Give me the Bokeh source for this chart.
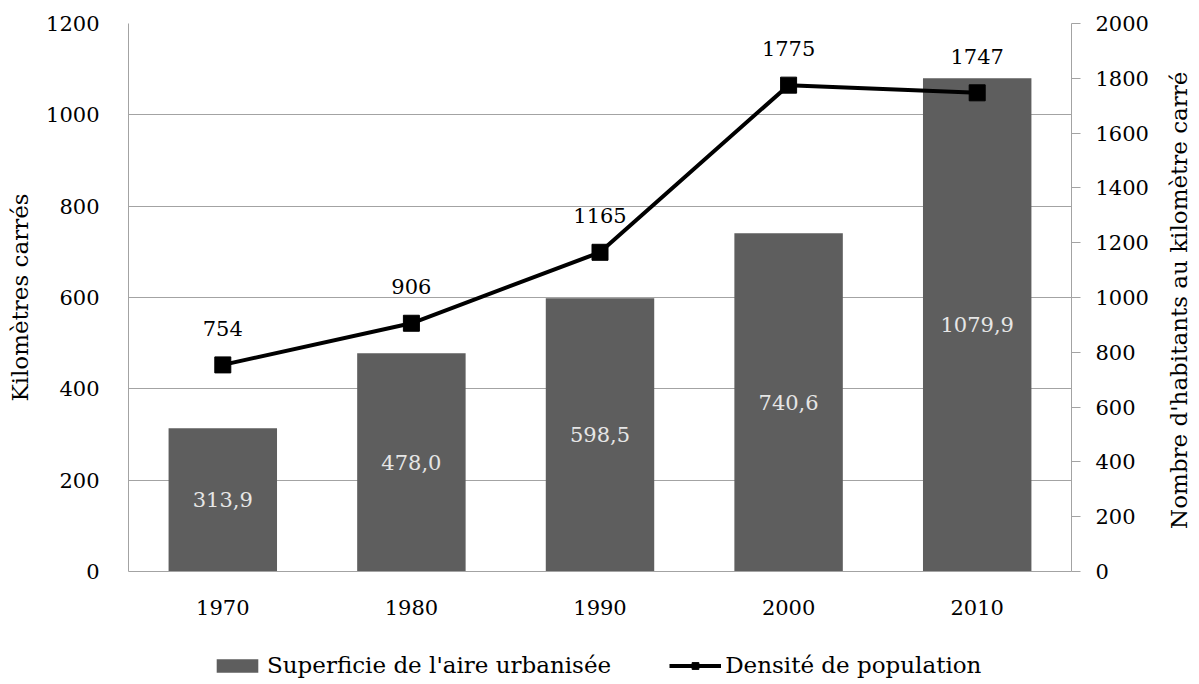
import math
from bokeh.plotting import figure
from bokeh.layouts import column, row
from bokeh.models import (Range1d, LinearAxis, FactorRange, ColumnDataSource, Legend, LegendItem,
                          SingleIntervalTicker)
from bokeh.embed import file_html
from bokeh.resources import INLINE
from bokeh.core.properties import value

years = ["1970", "1980", "1990", "2000", "2010"]
superficie = [313.9, 478.0, 598.5, 740.6, 1079.9]
densite = [754, 906, 1165, 1775, 1747]
superficie_labels = ["313,9", "478,0", "598,5", "740,6", "1079,9"]
densite_labels = [str(v) for v in densite]
legend_labels = ["Superficie de l'aire urbanisée", "Densité de population"]
right_title = ["Nombre d'habitants au kilomètre carré"]

FONT = "DejaVu Serif"
FS = "21px"      # numbers
FT = "23px"      # titles / legend
GRID = "#a3a3a3"
BAR = "#5e5e5e"

src = ColumnDataSource(dict(
    x=years, s=superficie, s_mid=[v / 2 for v in superficie], s_lab=superficie_labels,
    d=densite, d_lab=densite_labels,
))

p = figure(width=1159, height=637, x_range=FactorRange(*years), y_range=Range1d(0, 1200),
           output_backend="svg", toolbar_location=None,
           min_border_left=128, min_border_right=88, min_border_top=23, min_border_bottom=66)
p.outline_line_color = None
p.background_fill_color = "white"
p.border_fill_color = "white"
p.extra_y_ranges = {"dens": Range1d(0, 2000)}

p.vbar(x="x", top="s", width=0.575, source=src, fill_color=BAR, line_color=None)
p.text(x="x", y="s_mid", text="s_lab", source=src, text_align="center", text_baseline="middle",
       text_color="#e6e6e6", text_font=value(FONT), text_font_size=FS)

p.line(x="x", y="d", source=src, y_range_name="dens", line_color="black", line_width=4)
p.scatter(x="x", y="d", source=src, y_range_name="dens", marker="square", size=16,
          fill_color="black", line_color="black")
p.text(x="x", y="d", text="d_lab", source=src, y_range_name="dens", text_align="center",
       text_baseline="bottom", y_offset=-29, text_color="black",
       text_font=value(FONT), text_font_size=FS)

# left axis
la = p.yaxis[0]
la.ticker = SingleIntervalTicker(interval=200)
la.axis_label = "Kilomètres carrés"
la.axis_line_color = GRID
la.major_tick_line_color = None
la.major_tick_out = 0
la.minor_tick_line_color = None
la.major_label_standoff = 25
la.axis_label_standoff = 10

ra = LinearAxis(y_range_name="dens", ticker=SingleIntervalTicker(interval=200))
ra.axis_line_color = GRID
ra.major_tick_line_color = GRID
ra.major_tick_out = 9
ra.major_tick_in = 0
ra.minor_tick_line_color = None
ra.major_label_standoff = 15
p.add_layout(ra, "right")

xa = p.xaxis[0]
xa.axis_line_color = GRID
xa.major_tick_line_color = None
xa.minor_tick_line_color = None
xa.major_label_standoff = 22

for ax in (la, ra, xa):
    ax.major_label_text_font = FONT
    ax.major_label_text_font_size = FS
    ax.major_label_text_color = "black"
    ax.axis_label_text_font = FONT
    ax.axis_label_text_font_size = FT
    ax.axis_label_text_font_style = "normal"
    ax.axis_label_text_color = "black"

p.xgrid.grid_line_color = None
p.ygrid.grid_line_color = GRID
p.ygrid.ticker = SingleIntervalTicker(interval=200)

# right axis title (reads bottom to top)
rt = figure(width=40, height=637, x_range=Range1d(0, 1), y_range=Range1d(0, 1),
            output_backend="svg", toolbar_location=None, x_axis_type=None, y_axis_type=None,
            min_border=0)
rt.outline_line_color = None
rt.grid.grid_line_color = None
rt.text(x=[0.48], y=[0.495], text=right_title, angle=math.pi / 2, text_align="center",
        text_baseline="middle", text_color="black", text_font=value(FONT), text_font_size=FT)

# legend strip
lg = figure(width=1199, height=47, x_range=Range1d(0, 1), y_range=Range1d(0, 1),
            output_backend="svg", toolbar_location=None, x_axis_type=None, y_axis_type=None,
            min_border=0)
lg.outline_line_color = None
lg.grid.grid_line_color = None
off = ColumnDataSource(dict(x=[-5.0], y=[-5.0]))
r_bar = lg.vbar(x="x", top="y", width=0.5, source=off, fill_color=BAR, line_color=None)
r_ln = lg.line(x="x", y="y", source=off, line_color="black", line_width=4)
r_mk = lg.scatter(x="x", y="y", source=off, marker="square", size=13,
                  fill_color="black", line_color="black")
legend = Legend(items=[LegendItem(label=legend_labels[0], renderers=[r_bar]),
                       LegendItem(label=legend_labels[1], renderers=[r_ln, r_mk])],
                orientation="horizontal", location=(211, 6),
                label_text_font=FONT, label_text_font_size=FT, label_text_color="black",
                label_standoff=4,
                glyph_width=52, glyph_height=17, spacing=58, padding=0, margin=0,
                border_line_color=None, background_fill_alpha=0)
lg.add_layout(legend, "center")

layout = column(row(p, rt, spacing=0), lg, spacing=0)
open("out.html", "w").write(file_html(layout, INLINE))
